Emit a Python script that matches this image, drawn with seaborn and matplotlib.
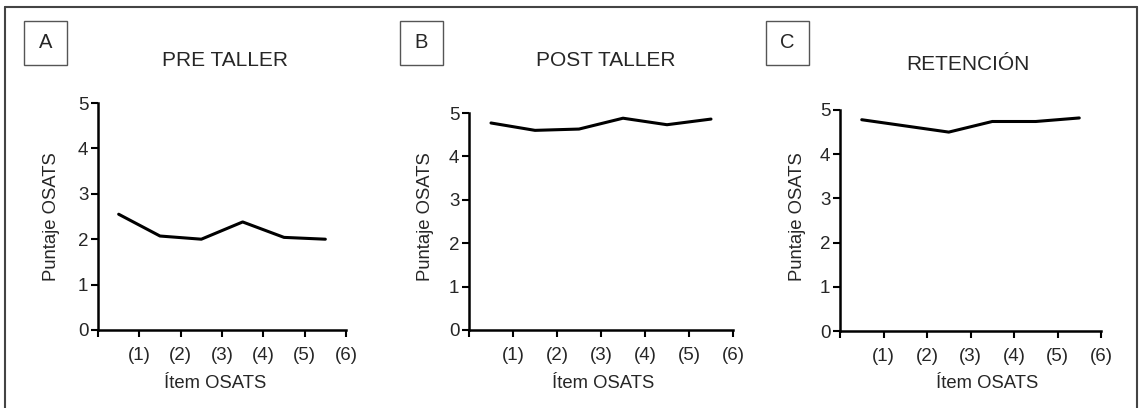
import pandas as pd
import matplotlib.pyplot as plt
import seaborn as sns
from matplotlib.lines import Line2D

# Data (OSATS score per item)
items = [1, 2, 3, 4, 5, 6]
tick_labels = ["(1)", "(2)", "(3)", "(4)", "(5)", "(6)"]
pre_taller = [2.55, 2.07, 2.00, 2.38, 2.04, 2.00]
post_taller = [4.77, 4.60, 4.63, 4.88, 4.73, 4.86]
retencion = [4.78, 4.64, 4.50, 4.74, 4.74, 4.82]

panels = [
    ("A", "PRE TALLER", pre_taller),
    ("B", "POST TALLER", post_taller),
    ("C", "RETENCIÓN", retencion),
]

sns.set_style("white")
plt.rcParams["font.family"] = ["Liberation Sans", "DejaVu Sans"]

W, H = 1139, 408
fig = plt.figure(figsize=(W / 100, H / 100), dpi=100)

# axes boxes in pixels: left, right, top(y=5), bottom(y=0)
boxes = [(98, 346, 103, 330), (469, 733, 113, 330), (840, 1101, 110, 331)]
label_boxes = [(24, 67), (400, 443), (766, 809)]
title_x = [225, 606, 968]
title_y = [60, 60, 65]
ylabel_x = [52, 425, 798]
xlabel_x = [215, 603, 987]

for i, (letter, title, vals) in enumerate(panels):
    l, r, t, b = boxes[i]
    ax = fig.add_axes([l / W, 1 - b / H, (r - l) / W, (b - t) / H])
    df = pd.DataFrame({"item": [k - 0.5 for k in items], "score": vals})
    sns.lineplot(data=df, x="item", y="score", ax=ax, color="black", linewidth=2.2)
    ax.set_xlim(0, 6)
    ax.set_ylim(0, 5)
    ax.set_xticks(range(0, 7))
    ax.set_xticklabels([""] + tick_labels)
    ax.set_yticks(range(0, 6))
    ax.tick_params(axis="both", direction="out", length=5, width=1.5,
                   color="black", labelsize=13.5, pad=2,
                   bottom=True, left=True)
    ax.tick_params(axis="x", pad=7)
    for s in ["top", "right"]:
        ax.spines[s].set_visible(False)
    for s in ["left", "bottom"]:
        ax.spines[s].set_linewidth(1.8)
        ax.spines[s].set_color("black")
    ax.set_xlabel("")
    ax.set_ylabel("")
    fig.text(ylabel_x[i] / W, 1 - 217 / H, "Puntaje OSATS", rotation=90,
             ha="center", va="center", fontsize=13.3)
    fig.text(xlabel_x[i] / W, 1 - 383 / H, "Ítem OSATS",
             ha="center", va="center", fontsize=13.3)
    fig.text(title_x[i] / W, 1 - title_y[i] / H, title,
             ha="center", va="center", fontsize=15)
    # letter box
    x0, x1 = label_boxes[i]
    fig.text((x0 + x1) / 2 / W, 1 - 43 / H, letter, ha="center", va="center",
             fontsize=14.5)
    fig.add_artist(plt.Rectangle((x0 / W, 1 - 65 / H), (x1 - x0) / W, 44 / H,
                                 transform=fig.transFigure, fill=False,
                                 edgecolor="#555555", linewidth=1))

# outer frame (top, left, right)
frame_kw = dict(transform=fig.transFigure, color="#444444", linewidth=1.5)
fig.add_artist(Line2D([5 / W, 1137 / W], [1 - 7 / H, 1 - 7 / H], **frame_kw))
fig.add_artist(Line2D([5 / W, 5 / W], [0, 1 - 7 / H], **frame_kw))
fig.add_artist(Line2D([1137 / W, 1137 / W], [0, 1 - 7 / H], **frame_kw))

fig.savefig("out.png", dpi=100)
